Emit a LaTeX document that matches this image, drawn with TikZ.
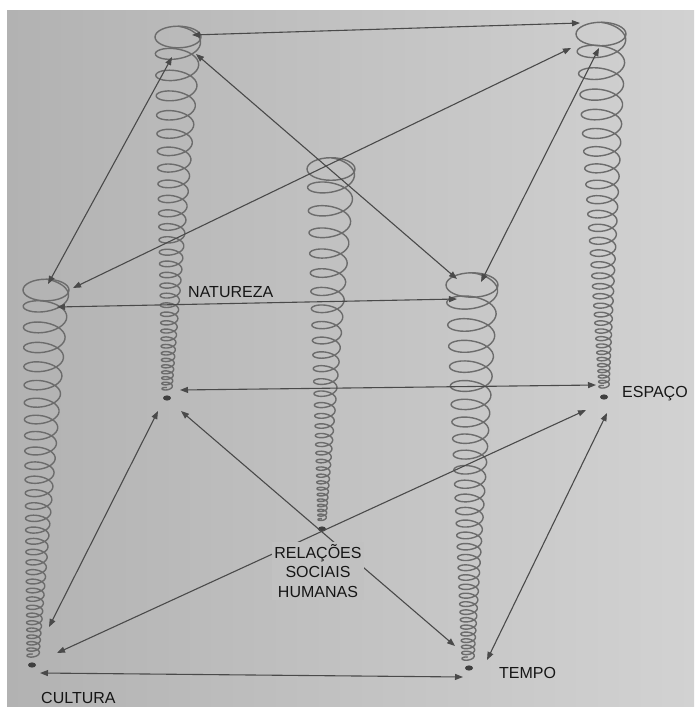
\documentclass[tikz,border=0pt]{standalone}
\usepackage{fontspec}
\setmainfont{Liberation Sans}
\usetikzlibrary{arrows.meta}
\definecolor{bgL}{RGB}{178,178,178}
\definecolor{bgR}{RGB}{210,210,210}
\definecolor{bgM}{RGB}{193,193,193}
\definecolor{ink}{RGB}{74,74,74}
\definecolor{coilc}{RGB}{108,108,108}
\definecolor{txt}{RGB}{22,22,22}
\newcommand\coilspring[7]{%
  \draw[coilline] (#1,#2) ellipse [x radius=#5pt, y radius=0.47*#5pt];
  \draw[coilline] plot[domain=0:1, samples=900, smooth, variable=\u]
   ({#1+(#3-#1)*(1-exp(ln(#6/#5)*\u))/(1-#6/#5) + #5*exp(ln(#6/#5)*\u)*cos(360*#7*\u-90)},
    {#2+(#4-#2)*(1-exp(ln(#6/#5)*\u))/(1-#6/#5) + 0.47*#5*exp(ln(#6/#5)*\u)*sin(360*#7*\u-90)});
}
\begin{document}
\begin{tikzpicture}[x=1pt,y=-1pt,
  coilline/.style={draw=coilc, line width=1.4pt},
  link/.style={draw=ink, line width=1.1pt, {Triangle[length=8pt,width=6pt]}-{Triangle[length=8pt,width=6pt]}},
  dotmark/.style={fill=ink!85!black},
  lab/.style={text=txt, font=\fontsize{16}{19.5}\selectfont, inner sep=0pt},
  midlab/.style={lab, fill=bgM, align=center, inner sep=2pt}]
\useasboundingbox (0,0) rectangle (694,707);
\fill[white] (0,0) rectangle (694,707);
\shade[left color=bgL, right color=bgR] (7,10) rectangle (694,707);

% springs
\coilspring{178}{37}{167}{390}{23}{5}{30}
\coilspring{601}{34}{604}{388}{25}{5}{30}
\coilspring{331}{169}{322}{521}{24}{4}{30}
\coilspring{46}{290}{33}{657}{23}{6}{30}
\coilspring{472}{285}{468}{660}{26}{6}{30}

% bottom dots
\coordinate (d1) at (167,398);
\coordinate (d2) at (604,397);
\coordinate (d3) at (322,529);
\coordinate (d4) at (32,665);
\coordinate (d5) at (469,668);
\foreach \d in {d1,d2,d3,d4,d5} \fill[dotmark] (\d) ellipse [x radius=4pt, y radius=2.6pt];

% arrow end points
\coordinate (t1r) at (192,35);
\coordinate (t2l) at (580,23);
\coordinate (t1a) at (172,57);
\coordinate (t4a) at (48,284);
\coordinate (t1b) at (196,54);
\coordinate (t5a) at (457,279);
\coordinate (t2a) at (571,48);
\coordinate (t4b) at (73,288);
\coordinate (t2b) at (599,48);
\coordinate (t5b) at (481,282);
\coordinate (t4c) at (57,307);
\coordinate (t5c) at (457,299);
\coordinate (b1a) at (180,390);
\coordinate (b2a) at (596,385);
\coordinate (b1b) at (158,411);
\coordinate (b4a) at (49,627);
\coordinate (b1c) at (181,411);
\coordinate (b5a) at (455,646);
\coordinate (b2b) at (586,410);
\coordinate (b4b) at (57,653);
\coordinate (b2c) at (607,413);
\coordinate (b5b) at (487,660);
\coordinate (b4c) at (40,673);
\coordinate (b5c) at (463,677);

% connectors
\draw[link] (t1r) -- (t2l);
\draw[link] (t1a) -- (t4a);
\draw[link] (t1b) -- (t5a);
\draw[link] (t2a) -- (t4b);
\draw[link] (t2b) -- (t5b);
\draw[link] (t4c) -- (t5c);
\draw[link] (b1a) -- (b2a);
\draw[link] (b1b) -- (b4a);
\draw[link] (b1c) -- (b5a);
\draw[link] (b2b) -- (b4b);
\draw[link] (b2c) -- (b5b);
\draw[link] (b4c) -- (b5c);

% labels
\node[lab, anchor=west] (natureza) at (188,292.5) {NATUREZA};
\node[lab, anchor=west] (espaco) at (622,394) {ESPAÇO};
\node[lab, anchor=west] (cultura) at (41,697.5) {CULTURA};
\node[lab, anchor=west] (tempo) at (499,672.5) {TEMPO};
\node[midlab] (relacoes) at (318,571) {RELAÇÕES\\SOCIAIS\\HUMANAS};
\end{tikzpicture}
\end{document}
